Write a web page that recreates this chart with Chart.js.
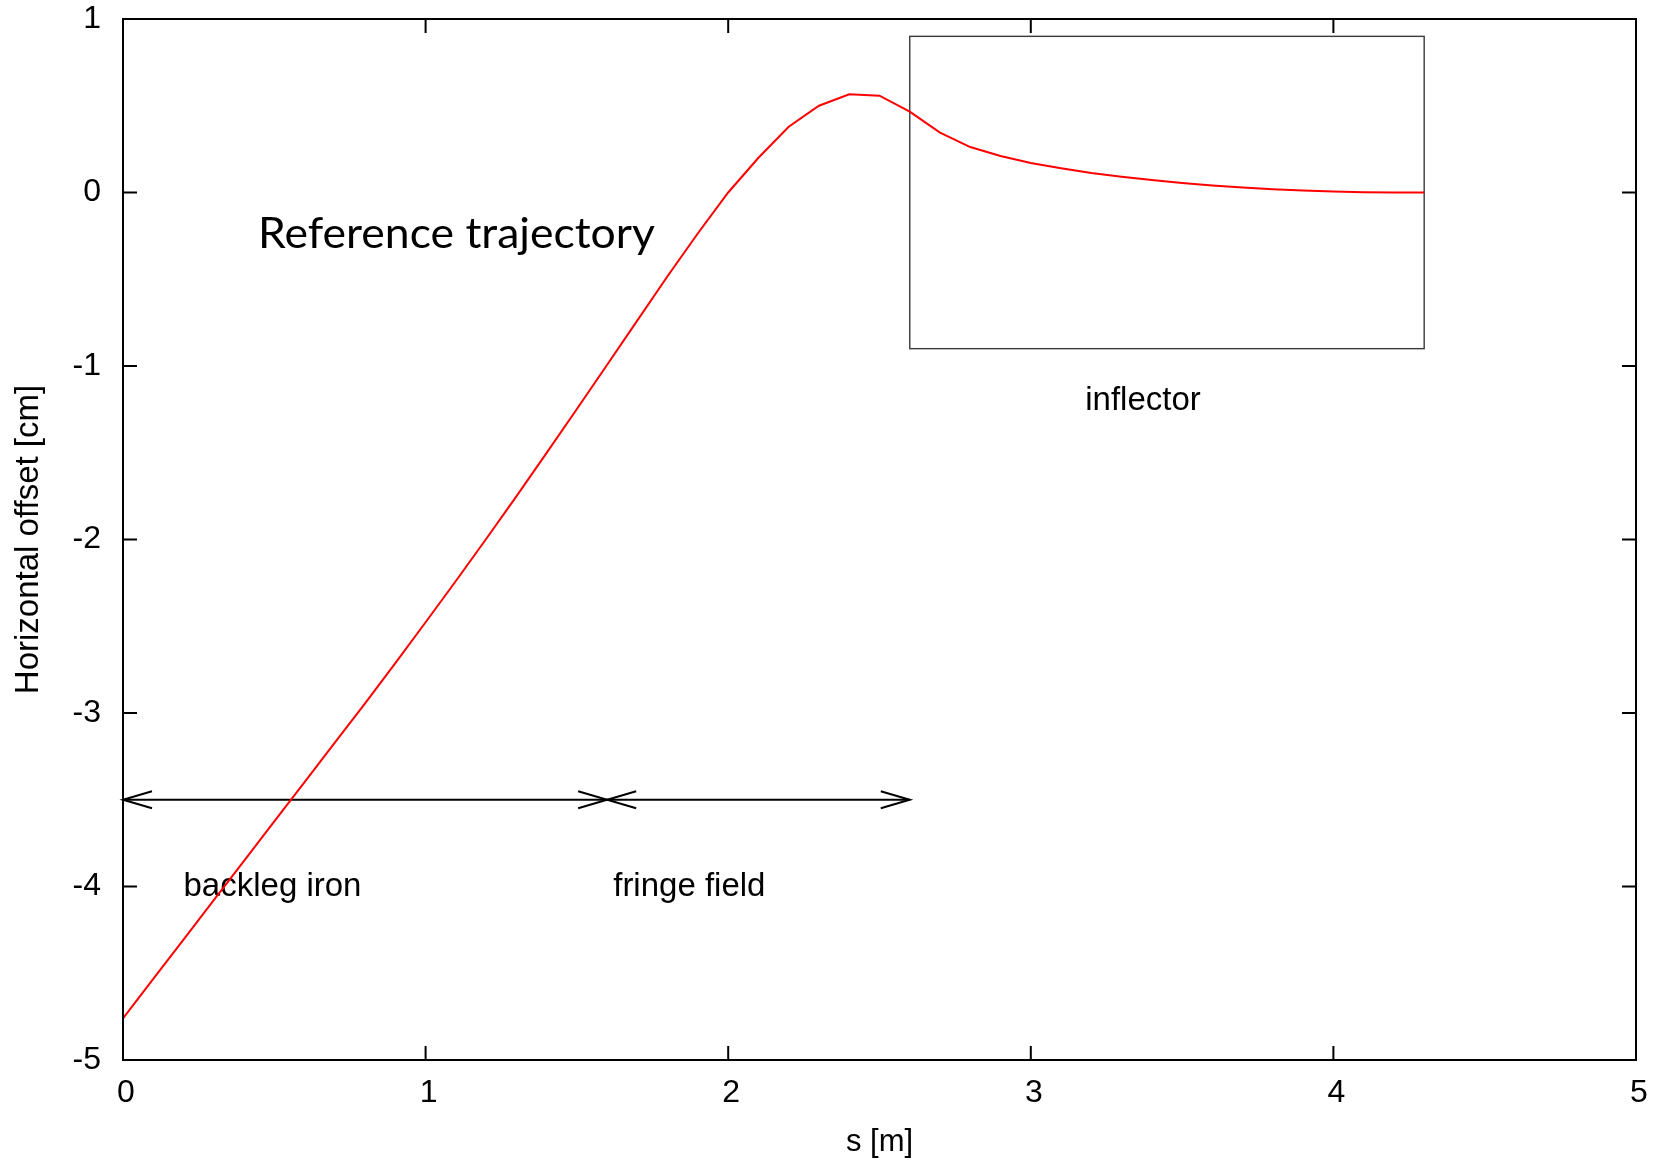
<!DOCTYPE html>
<html>
<head>
<meta charset="utf-8">
<title>Reference trajectory</title>
<script src="https://cdn.jsdelivr.net/npm/chart.js@4.4.1/dist/chart.umd.min.js"></script>
<style>
  html, body { margin: 0; padding: 0; background: #ffffff; }
  #wrap { width: 1658px; height: 1163px; }
</style>
</head>
<body>
<div id="wrap"><canvas id="c" width="1658" height="1163"></canvas></div>
<script>
// Path length along the beam line [m]
const sPositions = [
  0.0, 0.1, 0.2, 0.3, 0.4, 0.5, 0.6, 0.7, 0.8, 0.9,
  1.0, 1.1, 1.2, 1.3, 1.4, 1.5, 1.6, 1.7, 1.8, 1.9,
  2.0, 2.1, 2.2, 2.3, 2.4, 2.5, 2.6, 2.7, 2.8, 2.9,
  3.0, 3.1, 3.2, 3.3, 3.4, 3.5, 3.6, 3.7, 3.8, 3.9,
  4.0, 4.1, 4.2, 4.3
];
// Horizontal offset of the reference orbit [cm]
const horizontalOffsets = [
  -4.760, -4.533, -4.306, -4.079, -3.852, -3.625, -3.398, -3.171, -2.944, -2.712,
  -2.477, -2.239, -1.997, -1.751, -1.501, -1.248, -0.993, -0.737, -0.481, -0.235,
   0.000,  0.200,  0.379,  0.500,  0.566,  0.558,  0.466,  0.345,  0.262,  0.210,
   0.170,  0.140,  0.113,  0.091,  0.072,  0.055,  0.041,  0.029,  0.019,  0.011,
   0.006,  0.002,  0.0005, 0.000
];

// Axis ranges and tick values
const sRange = [0, 5];
const offsetRange = [-5, 1];
const sTicks = [0, 1, 2, 3, 4, 5];
const offsetTicks = [-5, -4, -3, -2, -1, 0, 1];

// Field regions along s, marked by double-headed arrows at a fixed offset
const regionStarts = [0.0, 1.6];
const regionEnds = [1.6, 2.6];
const regionArrowLevel = -3.5;

// Region names and where they are written (s, offset)
const regionNames = ['backleg iron', 'fringe field', 'inflector'];
const regionNameS = [0.2, 1.62, 3.18];
const regionNameOffset = [-4.0, -4.0, -1.2];

// Inflector aperture outline: s from/to, offset from/to
const inflectorS = [2.6, 4.3];
const inflectorOffset = [-0.9, 0.9];

// Plot heading, written inside the frame at (s, offset) of its baseline
const headingText = 'Reference trajectory';
const headingAt = [0.446, -0.322];

const axisFont = "'Liberation Sans', Arial, Helvetica, sans-serif";

const points = sPositions.map((s, i) => ({ x: s, y: horizontalOffsets[i] }));

function drawArrowHead(ctx, tipX, tipY, dir) {
  // gnuplot-style open head: two strokes back from the tip
  const len = 29, half = 8.5;
  ctx.beginPath();
  ctx.moveTo(tipX - dir * len, tipY - half);
  ctx.lineTo(tipX, tipY);
  ctx.lineTo(tipX - dir * len, tipY + half);
  ctx.stroke();
}

// Keep the plot frame fixed: no extra room for overhanging tick labels
function clearScalePadding(scale) {
  scale.paddingTop = 0;
  scale.paddingBottom = 0;
  scale.paddingLeft = 0;
  scale.paddingRight = 0;
}

const annotationPlugin = {
  id: 'trajectoryAnnotations',
  beforeDatasetsDraw(chart) {
    const { ctx } = chart;
    const xs = chart.scales.x, ys = chart.scales.y;
    ctx.save();

    // inflector outline
    const bx0 = xs.getPixelForValue(inflectorS[0]);
    const bx1 = xs.getPixelForValue(inflectorS[1]);
    const by0 = ys.getPixelForValue(inflectorOffset[1]);
    const by1 = ys.getPixelForValue(inflectorOffset[0]);
    ctx.strokeStyle = '#3a3a3a';
    ctx.lineWidth = 1.4;
    ctx.strokeRect(bx0, by0, bx1 - bx0, by1 - by0);

    // region arrows
    ctx.strokeStyle = '#000000';
    ctx.lineWidth = 2;
    ctx.lineCap = 'butt';
    ctx.lineJoin = 'miter';
    const ay = ys.getPixelForValue(regionArrowLevel);
    regionStarts.forEach((s0, i) => {
      const ax0 = xs.getPixelForValue(s0);
      const ax1 = xs.getPixelForValue(regionEnds[i]);
      ctx.beginPath();
      ctx.moveTo(ax0, ay);
      ctx.lineTo(ax1, ay);
      ctx.stroke();
      drawArrowHead(ctx, ax0, ay, -1);
      drawArrowHead(ctx, ax1, ay, 1);
    });

    // region names
    ctx.fillStyle = '#000000';
    ctx.font = '33px ' + axisFont;
    ctx.textAlign = 'left';
    ctx.textBaseline = 'middle';
    regionNames.forEach((name, i) => {
      ctx.fillText(name, xs.getPixelForValue(regionNameS[i]), ys.getPixelForValue(regionNameOffset[i]));
    });

    // heading
    ctx.font = "42px Lato, 'Open Sans', sans-serif";
    ctx.textBaseline = 'alphabetic';
    const hx = xs.getPixelForValue(headingAt[0]);
    const hy = ys.getPixelForValue(headingAt[1]);
    const w = ctx.measureText(headingText).width;
    const sx = 397 / w;
    ctx.translate(hx, hy);
    ctx.scale(sx, 1);
    ctx.fillText(headingText, 0, 0);

    ctx.restore();
  },
  afterDraw(chart) {
    const { ctx, chartArea: a } = chart;
    const xs = chart.scales.x, ys = chart.scales.y;
    const tick = 14;
    ctx.save();
    ctx.strokeStyle = '#000000';
    ctx.lineWidth = 2;
    ctx.beginPath();
    // inward ticks on all four sides
    sTicks.forEach(v => {
      const px = xs.getPixelForValue(v);
      ctx.moveTo(px, a.bottom); ctx.lineTo(px, a.bottom - tick);
      ctx.moveTo(px, a.top); ctx.lineTo(px, a.top + tick);
    });
    offsetTicks.forEach(v => {
      const py = ys.getPixelForValue(v);
      ctx.moveTo(a.left, py); ctx.lineTo(a.left + tick, py);
      ctx.moveTo(a.right, py); ctx.lineTo(a.right - tick, py);
    });
    ctx.stroke();
    // frame
    ctx.strokeRect(a.left, a.top, a.right - a.left, a.bottom - a.top);
    ctx.restore();
  }
};

new Chart(document.getElementById('c'), {
  type: 'scatter',
  data: {
    datasets: [{
      data: points,
      showLine: true,
      borderColor: '#ff0000',
      borderWidth: 2,
      pointRadius: 0,
      pointHoverRadius: 0,
      tension: 0,
      fill: false
    }]
  },
  options: {
    responsive: false,
    animation: false,
    events: [],
    layout: { padding: { top: 19, right: 22, left: 0, bottom: 0 } },
    plugins: {
      legend: { display: false },
      tooltip: { enabled: false },
      title: { display: false }
    },
    scales: {
      x: {
        type: 'linear',
        min: sRange[0],
        max: sRange[1],
        afterFit(scale) { scale.height = 103; clearScalePadding(scale); },
        afterBuildTicks(scale) { scale.ticks = sTicks.map(v => ({ value: v })); },
        grid: { display: false, drawTicks: false },
        border: { display: false },
        ticks: {
          color: '#000000',
          font: { family: axisFont, size: 32 },
          padding: 14.3,
          labelOffset: 3,
          maxRotation: 0,
          callback: v => String(v)
        },
        title: {
          display: true,
          text: 's [m]',
          color: '#000000',
          font: { family: axisFont, size: 31 },
          padding: { top: 0, bottom: 2.4 }
        }
      },
      y: {
        type: 'linear',
        min: offsetRange[0],
        max: offsetRange[1],
        afterFit(scale) { scale.width = 123; clearScalePadding(scale); },
        afterBuildTicks(scale) { scale.ticks = offsetTicks.map(v => ({ value: v })); },
        grid: { display: false, drawTicks: false },
        border: { display: false },
        ticks: {
          color: '#000000',
          font: { family: axisFont, size: 32 },
          padding: 22,
          callback: v => String(v)
        },
        title: {
          display: true,
          text: 'Horizontal offset [cm]',
          color: '#000000',
          font: { family: axisFont, size: 33 },
          padding: { top: 8.7, bottom: 0 }
        }
      }
    }
  },
  plugins: [annotationPlugin]
});
</script>
</body>
</html>
